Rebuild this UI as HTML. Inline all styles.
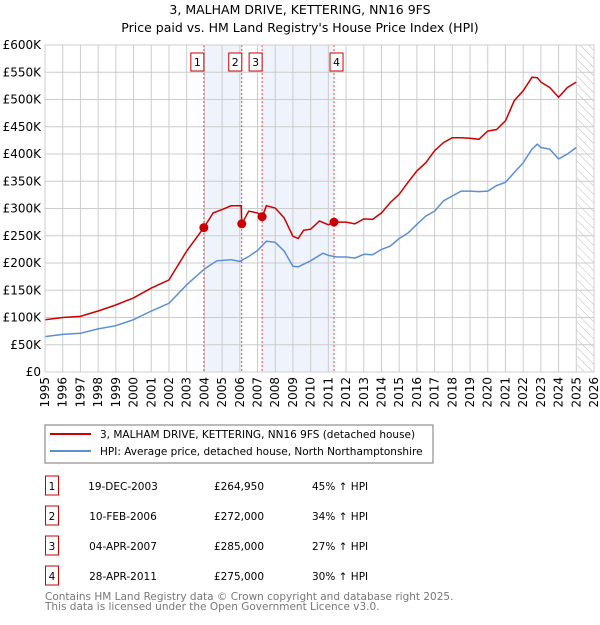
<!DOCTYPE html>
<html><head><meta charset="utf-8"><style>
body{margin:0;background:#fff;font-family:"Liberation Sans","DejaVu Sans",sans-serif;}
svg text{font-family:"DejaVu Sans","Liberation Sans",sans-serif;}
</style></head><body>
<svg width="600" height="620" viewBox="0 0 600 620">
<defs><pattern id="hatch" width="6" height="6" patternUnits="userSpaceOnUse" patternTransform="rotate(-45)"><line x1="0" y1="0" x2="0" y2="6" stroke="#bbb" stroke-width="1"/></pattern></defs>
<text x="300" y="14" text-anchor="middle" font-size="12.5">3, MALHAM DRIVE, KETTERING, NN16 9FS</text>
<text x="300" y="32" text-anchor="middle" font-size="12.5">Price paid vs. HM Land Registry's House Price Index (HPI)</text>
<g id="plot"></g>
<rect x="45" y="425" width="388" height="38" fill="#fff" stroke="#777"/>
<line x1="50" y1="434" x2="91" y2="434" stroke="#cc0000" stroke-width="2"/>
<text x="100" y="438" font-size="10.5">3, MALHAM DRIVE, KETTERING, NN16 9FS (detached house)</text>
<line x1="50" y1="451" x2="91" y2="451" stroke="#5b8fd4" stroke-width="2"/>
<text x="100" y="455" font-size="10.5">HPI: Average price, detached house, North Northamptonshire</text>
<g id="table" font-size="10.5"></g>
<text x="45" y="600" font-size="10.5" fill="#777">Contains HM Land Registry data © Crown copyright and database right 2025.</text>
<text x="45" y="610" font-size="10.5" fill="#777">This data is licensed under the Open Government Licence v3.0.</text>
</svg>
<script>
const hpiYears=[1995,1996,1997,1998,1999,2000,2001,2002,2003,2004,2004.7,2005.5,2006,2006.5,2007,2007.5,2008,2008.5,2009,2009.3,2010,2010.7,2011,2011.5,2012,2012.5,2013,2013.5,2014,2014.5,2015,2015.5,2016,2016.5,2017,2017.5,2018,2018.5,2019,2019.5,2020,2020.5,2021,2021.5,2022,2022.5,2022.8,2023,2023.5,2024,2024.5,2025];
const hpiValues=[65,69,71,79,85,96,112,126,160,189,204,206,203,212,223,240,238,222,194,193,204,218,214,211,211,209,216,215,225,231,245,255,271,286,295,314,323,332,332,331,332,342,348,366,384,409,418,412,409,391,400,412];
const priceYears=[1995,1996,1997,1998,1999,2000,2001,2002,2003,2003.97,2004.5,2005,2005.5,2006.08,2006.11,2006.5,2007,2007.27,2007.5,2008,2008.5,2009,2009.3,2009.6,2010,2010.5,2011,2011.32,2012,2012.5,2013,2013.5,2014,2014.5,2015,2015.5,2016,2016.5,2017,2017.5,2018,2018.5,2019,2019.5,2020,2020.5,2021,2021.5,2022,2022.5,2022.8,2023,2023.5,2024,2024.5,2025];
const priceValues=[96,100,102,112,123,136,154,169,222,265,292,298,305,305,272,295,292,285,305,301,283,249,245,260,262,277,270,275,275,272,281,280,292,311,326,348,369,384,406,421,430,430,429,427,442,445,461,498,516,541,540,532,522,504,522,532];
const saleLabels=["1","2","3","4"];
const saleDates=[2003.97,2006.11,2007.26,2011.32];
const saleValues=[264.95,272,285,275];
const saleDateText=["19-DEC-2003","10-FEB-2006","04-APR-2007","28-APR-2011"];
const salePriceText=["£264,950","£272,000","£285,000","£275,000"];
const saleHpiText=["45% ↑ HPI","34% ↑ HPI","27% ↑ HPI","30% ↑ HPI"];
const yTicks=[0,50,100,150,200,250,300,350,400,450,500,550,600];
const xTicks=[1995,1996,1997,1998,1999,2000,2001,2002,2003,2004,2005,2006,2007,2008,2009,2010,2011,2012,2013,2014,2015,2016,2017,2018,2019,2020,2021,2022,2023,2024,2025,2026];
const X0=45,X1=594,Y0=372,Y1=45;
function sx(y){return X0+(y-1995)/(2026-1995)*(X1-X0);}
function sy(v){return Y0-v/600*(Y0-Y1);}
const NS="http://www.w3.org/2000/svg";
const plot=document.getElementById('plot');
function mk(tag,attrs,parent){const e=document.createElementNS(NS,tag);for(const k in attrs)e.setAttribute(k,attrs[k]);(parent||plot).appendChild(e);return e;}
for(const [a,b] of [[0,1],[2,3]]){
 const r=mk('rect',{x:sx(saleDates[a]),y:Y1,width:sx(saleDates[b])-sx(saleDates[a]),height:Y0-Y1,fill:'#eef3fc'});
 
 
}
const h=mk('rect',{x:sx(2025.05),y:Y1,width:X1-sx(2025.05),height:Y0-Y1,fill:'url(#hatch)'});


for(const t of yTicks){
 const l=mk('line',{x1:X0,x2:X1,y1:sy(t),y2:sy(t),stroke:'#cccccc'});
 
 
 const tx=mk('text',{x:X0-4,y:sy(t)+4,'text-anchor':'end','font-size':'12'});
 tx.textContent='£'+(t===0?'0':t+'K');
 
 
}
for(const t of xTicks){
 const l=mk('line',{x1:sx(t),x2:sx(t),y1:Y1,y2:Y0,stroke:'#cccccc'});
 
 
 const x=sx(t)+4,y=Y0+5;
 const tx=mk('text',{x:x,y:y,'text-anchor':'end','font-size':'12',transform:'rotate(-90 '+x+' '+y+')'});
 tx.textContent=t;
 
 
}
saleDates.forEach((d,i)=>{
 const l=mk('line',{x1:sx(d),x2:sx(d),y1:Y1,y2:Y0,stroke:'#ee4444','stroke-dasharray':'2,2','stroke-width':'1'});
 
 
 const bx=sx(d)-(i===3?-2:7);
 const r=mk('rect',{x:bx-6,y:53,width:13,height:18,fill:'#fff',stroke:'#cc0000'});
 
 
 const tx=mk('text',{x:bx+0.5,y:66,'text-anchor':'middle','font-size':'11'});
 tx.textContent=saleLabels[i];
 
 
});
function path(xs,vs,color,name){
 const d=xs.map((x,i)=>(i?'L':'M')+sx(x).toFixed(1)+','+sy(vs[i]).toFixed(1)).join('');
 const p=mk('path',{d:d,fill:'none',stroke:color,'stroke-width':'1.5'});
 
 
}
path(hpiYears,hpiValues,'#5b8fd4','hpi-line');
path(priceYears,priceValues,'#cc0000','price-line');
saleDates.forEach((d,i)=>{
 const c=mk('circle',{cx:sx(d),cy:sy(saleValues[i]),r:4.5,fill:'#cc0000'});
 
 
});
const f=mk('rect',{x:X0,y:Y1,width:X1-X0,height:Y0-Y1,fill:'none',stroke:'#cccccc'});


const tb=document.getElementById('table');
saleLabels.forEach((s,i)=>{
 const y=483+i*30;
 const r=mk('rect',{x:45.5,y:y-7,width:13,height:19,fill:'#fff',stroke:'#cc0000'},tb);
 
 
 const cells=[[52,s,'middle'],[123,saleDateText[i],'middle'],[239,salePriceText[i],'middle'],[312,saleHpiText[i],'start']];
 cells.forEach(c=>{
  const t=mk('text',{x:c[0],y:y+7,'text-anchor':c[2]},tb);
  t.textContent=c[1];
  
  
 });
});
</script>
</body></html>
